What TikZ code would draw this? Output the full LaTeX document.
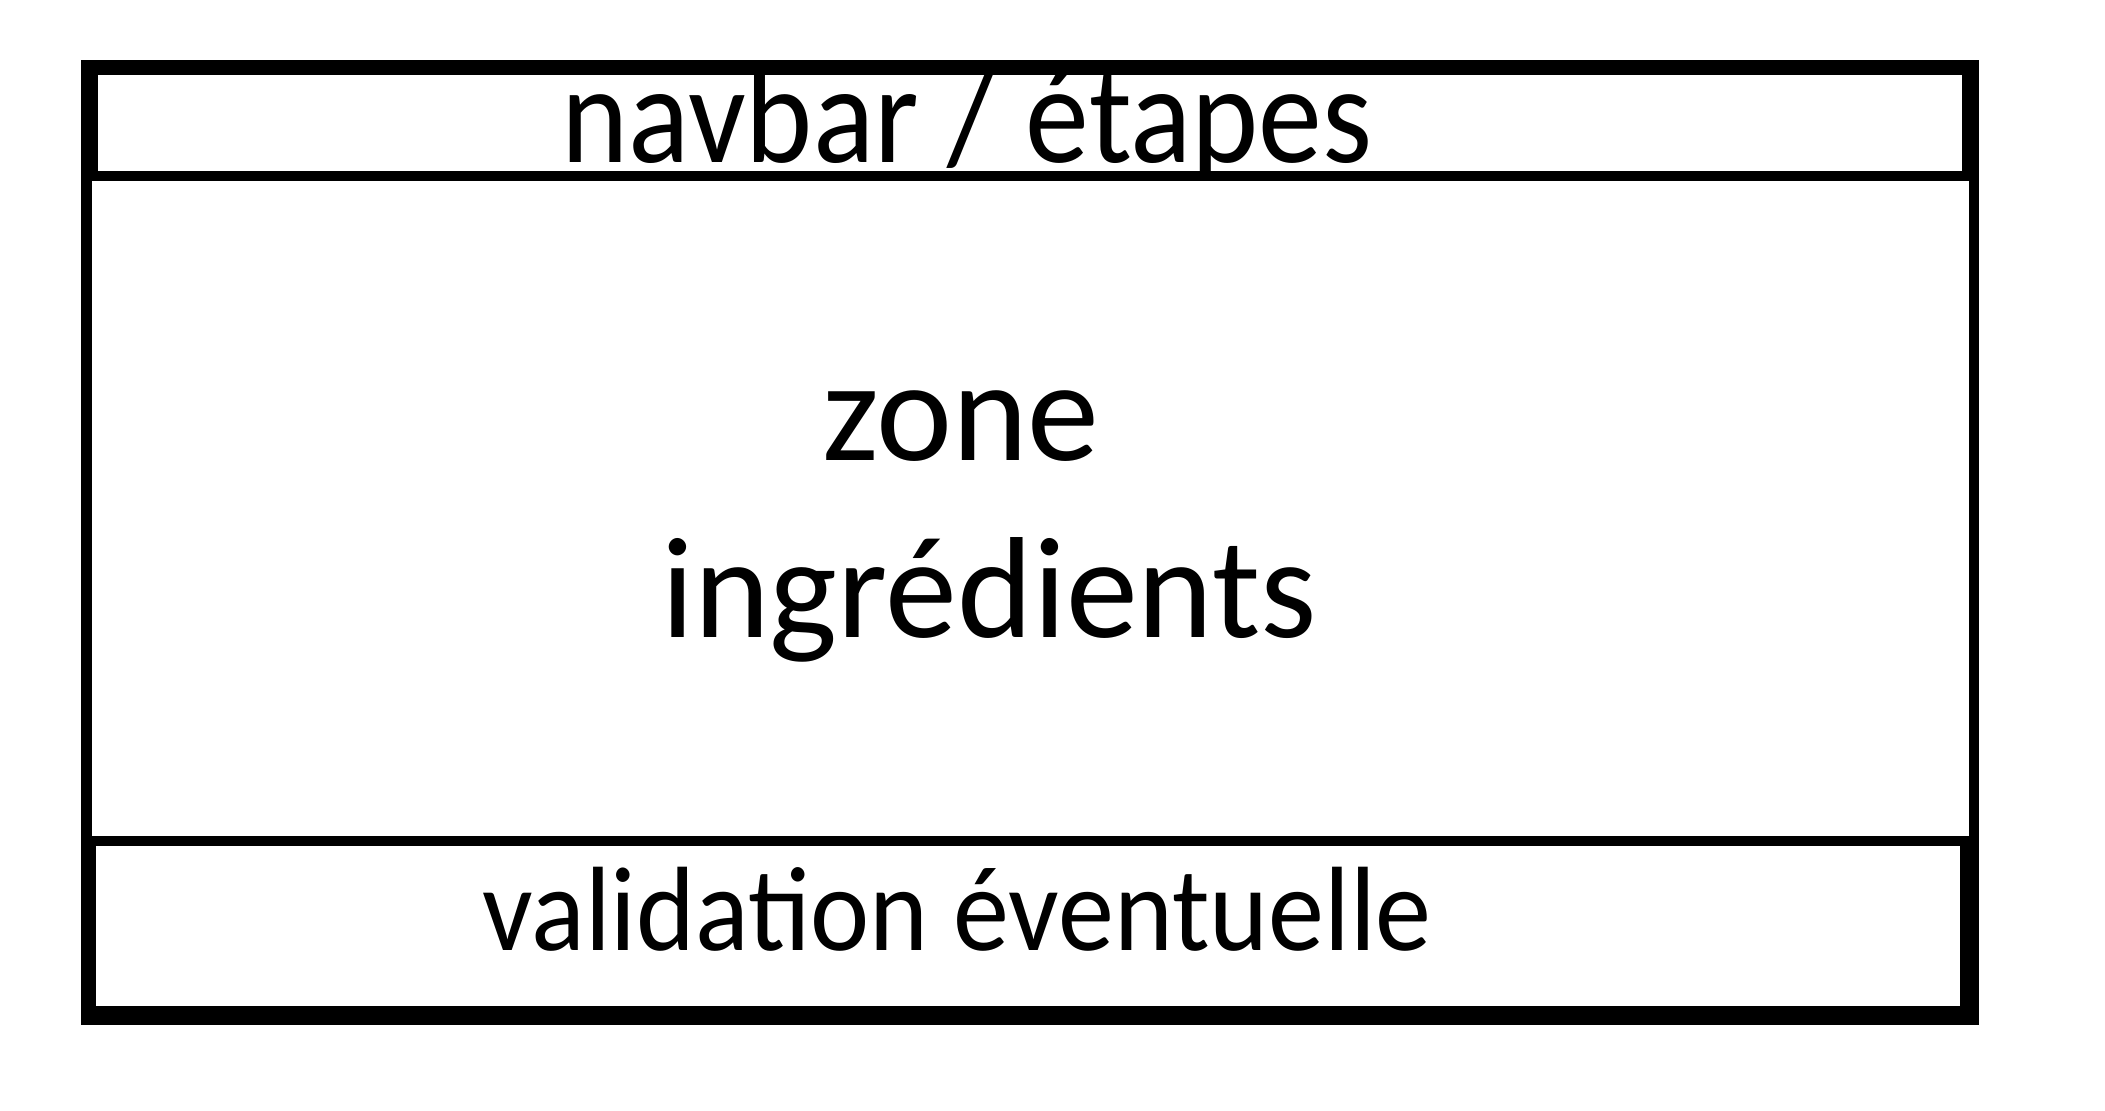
\documentclass[tikz,border=0pt]{standalone}
\usepackage{fontspec}
\setmainfont{Carlito}
\begin{document}
\begin{tikzpicture}[x=0.5pt,y=-0.5pt,
  pane/.style={fill=white,draw=none,inner sep=0pt,outer sep=0pt},
  lbl/.style={anchor=base,inner sep=0pt,text=black}]
\useasboundingbox (0,0) rectangle (2105,1110);
% outer black frame
\fill[black] (81,60) rectangle (1979,1025);
% navbar pane
\node[pane,minimum width=932pt,minimum height=48pt] (nav) at (1030,123) {};
\node[lbl,font=\fontsize{70}{84}\selectfont] (navt) at (967,162) {\scalebox{0.913}[1]{navbar / étapes}};
% central zone pane
\node[pane,minimum width=938.5pt,minimum height=327.5pt] (zone) at (1030.5,508.5) {};
\node[lbl,font=\fontsize{72}{86}\selectfont] (zonet1) at (961,460) {zone};
\node[lbl,font=\fontsize{72}{86}\selectfont] (zonet2) at (989,637) {ingrédients};
% validation pane
\node[pane,minimum width=932pt,minimum height=80pt] (valid) at (1028,926) {};
\node[lbl,font=\fontsize{60}{72}\selectfont] (validt) at (957,950) {\scalebox{0.934}[1]{validation éventuelle}};
\end{tikzpicture}
\end{document}
